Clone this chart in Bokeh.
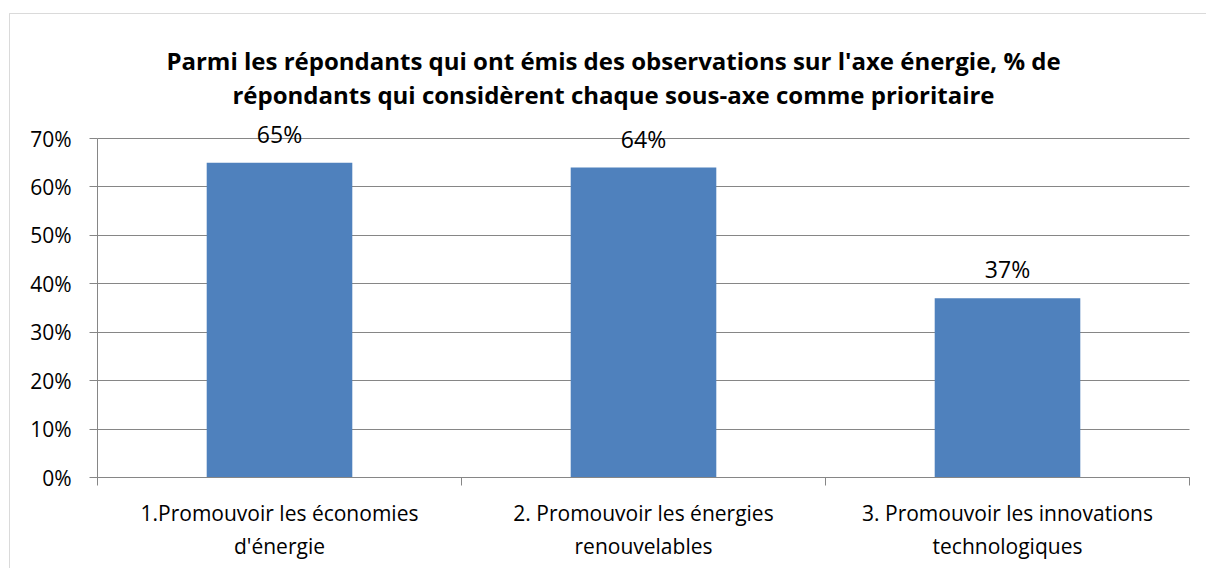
from bokeh.plotting import figure
from bokeh.models import (Range1d, FixedTicker, NumeralTickFormatter, LinearAxis,
                          ColumnDataSource, LabelSet, Label, BoxAnnotation, Grid)
from bokeh.core.properties import value
from bokeh.embed import file_html
from bokeh.resources import INLINE

# ---- data ----
categories = ["1.Promouvoir les économies\nd'énergie",
              "2. Promouvoir les énergies\nrenouvelables",
              "3. Promouvoir les innovations\ntechnologiques"]
shares = [0.65, 0.64, 0.37]
y_ticks = [0.0, 0.1, 0.2, 0.3, 0.4, 0.5, 0.6, 0.7]
title_lines = ["Parmi les répondants qui ont émis des observations sur l'axe énergie, % de",
               "répondants qui considèrent chaque sous-axe comme prioritaire"]

FONT = "Open Sans"
GRAY = "#868686"
BAR = "#4F81BD"

W, H = 1206, 568
# pixel geometry of the plotting area (layout only)
PX_LEFT, PX_RIGHT, PX_TOP, PX_BOTTOM = 97, 1189, 138, 477

n = len(categories)
ymax = y_ticks[-1]
px_per_x = (PX_RIGHT - PX_LEFT) / n
px_per_y = (PX_BOTTOM - PX_TOP) / ymax
x_start = -PX_LEFT / px_per_x
x_end = n + (W - PX_RIGHT) / px_per_x
y_start = -(H - PX_BOTTOM) / px_per_y
y_end = ymax + PX_TOP / px_per_y


def xd(px):
    return (px - PX_LEFT) / px_per_x


def yd(py):
    return (PX_BOTTOM - py) / px_per_y


centers = [i + 0.5 for i in range(n)]
labels = [f"{round(v * 100)}%" for v in shares]
src = ColumnDataSource(dict(x=centers, top=shares, label=labels))

p = figure(width=W, height=H, x_range=Range1d(x_start, x_end), y_range=Range1d(y_start, y_end),
           output_backend="svg", toolbar_location=None, x_axis_type=None, y_axis_type=None,
           min_border=0)
p.outline_line_color = None
p.background_fill_color = "white"
p.border_fill_color = "white"

yticker = FixedTicker(ticks=y_ticks)
p.add_layout(Grid(dimension=1, ticker=yticker, grid_line_color=GRAY, grid_line_width=1,
                  cross_bounds=(0, n)))

p.vbar(x="x", top="top", width=0.4, source=src, fill_color=BAR, line_color=None)

yaxis = LinearAxis(ticker=yticker, formatter=NumeralTickFormatter(format="0%"),
                   fixed_location=0, bounds=(0, ymax),
                   major_tick_out=8, major_tick_in=0, minor_tick_out=0, minor_tick_in=0,
                   axis_line_color=GRAY, major_tick_line_color=GRAY,
                   major_label_standoff=18, major_label_text_font=FONT,
                   major_label_text_font_size="21px", major_label_text_color="black")
p.add_layout(yaxis, "left")

xaxis = LinearAxis(ticker=FixedTicker(ticks=centers, minor_ticks=list(range(n + 1))),
                   major_label_overrides={c: t for c, t in zip(centers, categories)},
                   fixed_location=0, bounds=(0, n),
                   major_tick_out=0, major_tick_in=0, minor_tick_out=8, minor_tick_in=0,
                   axis_line_color=GRAY, minor_tick_line_color=GRAY,
                   major_label_standoff=13, major_label_text_font=FONT,
                   major_label_text_font_size="21px", major_label_text_color="black",
                   major_label_text_line_height=1.2)
p.add_layout(xaxis, "below")

p.add_layout(LabelSet(x="x", y="top", text="label", source=src, y_offset=20,
                      text_align="center", text_baseline="alphabetic",
                      text_font=value(FONT), text_font_size="23px", text_color="black"))

for txt, base in zip(title_lines, [60, 94]):
    p.add_layout(Label(x=xd(613), y=yd(base), text=txt, text_align="center",
                       text_baseline="alphabetic", text_font=FONT, text_font_style="bold",
                       text_font_size="24px", text_color="black"))

# chart-area border (left and top edges visible)
p.add_layout(BoxAnnotation(left=xd(9), right=x_end + 1, top=yd(13), bottom=y_start - 1,
                           fill_alpha=0, line_color=GRAY, line_width=1))

open("out.html", "w").write(file_html(p, INLINE))
